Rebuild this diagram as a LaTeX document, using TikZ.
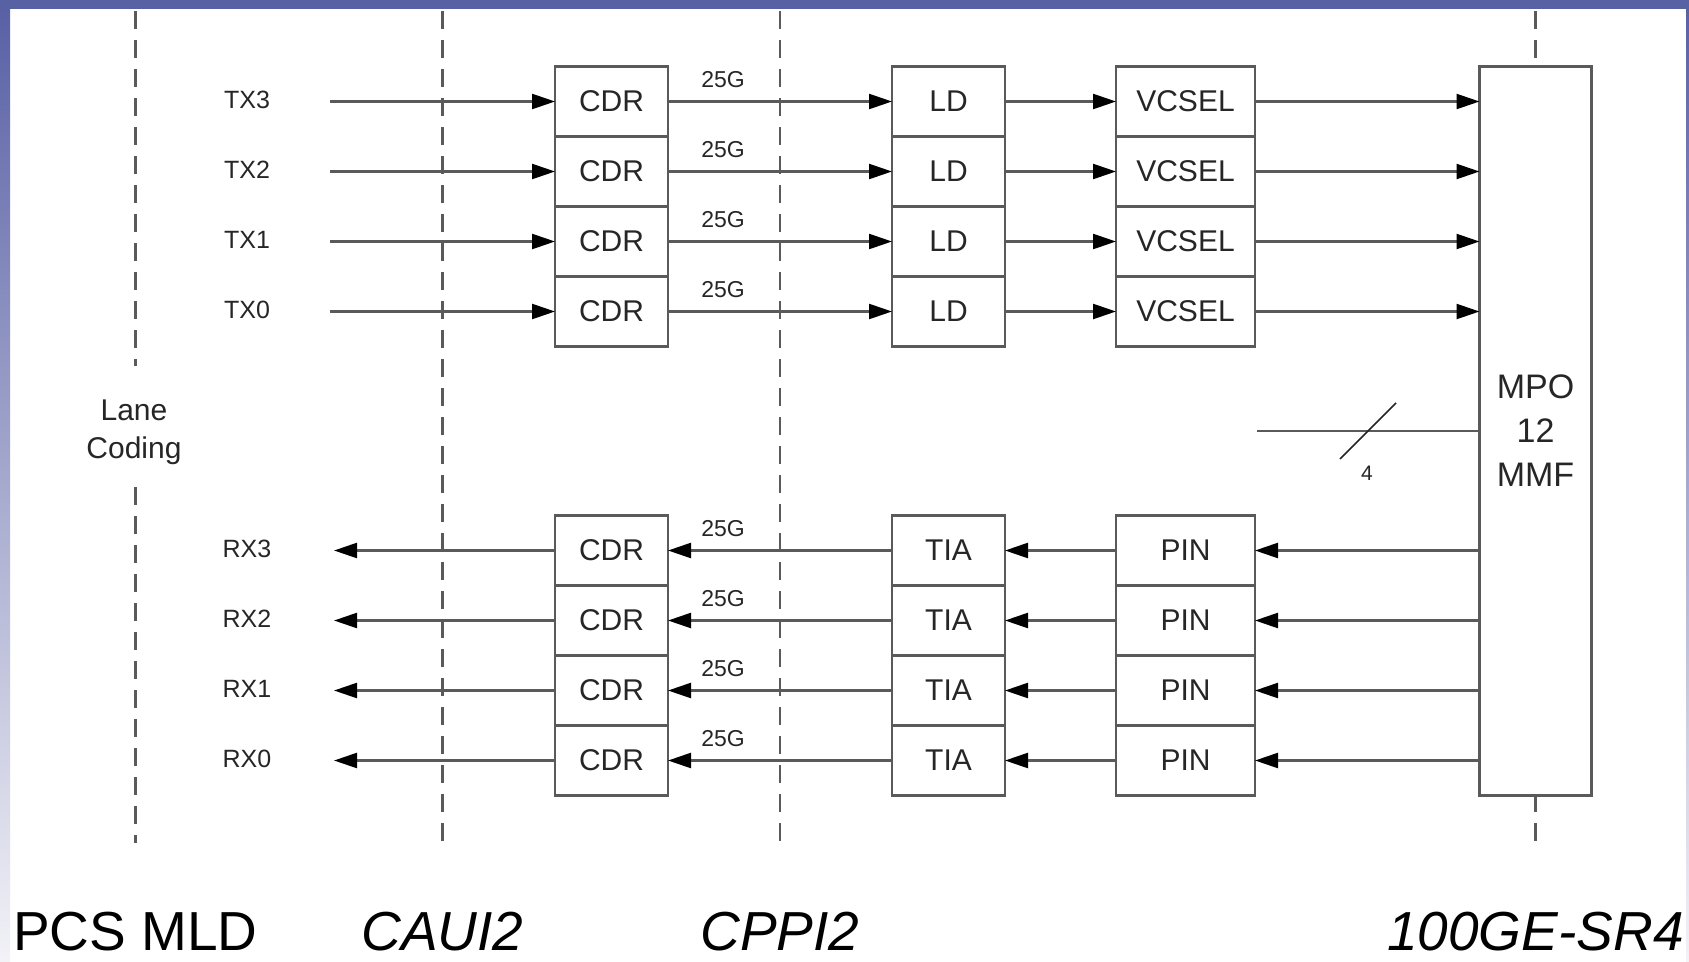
\documentclass[tikz,border=0pt]{standalone}
\usepackage{fontspec}
\setmainfont{Liberation Sans}
\usetikzlibrary{arrows.meta,positioning}
\definecolor{slideBlue}{HTML}{5961A5}
\definecolor{slideFade}{HTML}{F2F2F7}
\definecolor{wireGray}{HTML}{5A5A5A}
\definecolor{inkDark}{HTML}{262626}

\tikzset{
  blockbox/.style={draw=wireGray,line width=2.3pt,fill=white,minimum height=70pt,
    inner sep=0pt,outer sep=0pt,text=inkDark,font=\fontsize{30}{34}\selectfont},
  wire/.style={draw=wireGray,line width=2.3pt},
  sig/.style={wire,-{Triangle[length=23pt,width=15pt,color=black]}},
  divider/.style={draw=wireGray,line width=2.6pt,dash pattern=on 18pt off 11pt},
  lanelabel/.style={inner sep=0pt,text=inkDark,font=\fontsize{25}{30}\selectfont},
  ratelabel/.style={anchor=base,inner sep=0pt,text=inkDark,font=\fontsize{23}{28}\selectfont},
  layername/.style={anchor=base,inner sep=0pt,text=black,font=\fontsize{55}{60}\selectfont},
  ifname/.style={layername,font=\fontsize{55}{60}\selectfont\itshape}
}

\begin{document}
\begin{tikzpicture}[x=1pt,y=-1pt]
  \useasboundingbox (0,0) rectangle (1689,961);
  \fill[white] (0,0) rectangle (1689,961);
  \fill[slideBlue] (0,0) rectangle (1689,9);
  \shade[top color=slideBlue,bottom color=slideFade] (0,9) rectangle (10,961);
  \shade[top color=slideBlue,bottom color=slideFade] (1686,9) rectangle (1689,961);

  \draw[divider] (135.5,11) -- (135.5,366);
  \draw[divider] (135.5,487) -- (135.5,843);
  \foreach \x in {442.5,780,1535.5}
    \draw[divider] (\x,11) -- (\x,843);
  \node[align=center,inner sep=0pt,text=inkDark,font=\fontsize{30}{38}\selectfont]
    (lane) at (134,432) {Lane\\Coding};

  \node[blockbox,minimum width=112pt,minimum height=729pt,align=center,
    font=\fontsize{34}{44}\selectfont] (mpo) at (1535.5,431) {MPO\\12\\MMF};

  \foreach \i/\y in {3/101.5,2/171.5,1/241.5,0/311.5} {
    \node[lanelabel] (tx\i) at (247,\y-2) {TX\i};
    \coordinate (txin\i) at (330,\y);
    \node[blockbox,minimum width=113pt] (txcdr\i) at (611.5,\y) {CDR};
    \node[blockbox,minimum width=113pt] (ld\i) at (948.5,\y) {LD};
    \node[blockbox,minimum width=139pt] (vcsel\i) at (1185.5,\y) {VCSEL};
    \node[ratelabel] (txrate\i) at (723,\y-14.5) {25G};
  }
  \foreach \i/\y in {3/550.5,2/620.5,1/690.5,0/760.5} {
    \node[lanelabel] (rx\i) at (247,\y-2) {RX\i};
    \coordinate (rxout\i) at (334,\y);
    \node[blockbox,minimum width=113pt] (rxcdr\i) at (611.5,\y) {CDR};
    \node[blockbox,minimum width=113pt] (tia\i) at (948.5,\y) {TIA};
    \node[blockbox,minimum width=139pt] (pin\i) at (1185.5,\y) {PIN};
    \node[ratelabel] (rxrate\i) at (723,\y-14.5) {25G};
  }

  \foreach \i in {0,...,3} {
    \draw[sig] (txin\i) -- (txcdr\i.west);
    \draw[sig] (txcdr\i.east) -- (ld\i.west);
    \draw[sig] (ld\i.east) -- (vcsel\i.west);
    \draw[sig] (vcsel\i.east) -- (vcsel\i.east -| mpo.west);
    \draw[sig] (pin\i.east -| mpo.west) -- (pin\i.east);
    \draw[sig] (pin\i.west) -- (tia\i.east);
    \draw[sig] (tia\i.west) -- (rxcdr\i.east);
    \draw[sig] (rxcdr\i.west) -- (rxout\i);
  }

  \coordinate (bundle) at (1257,431);
  \draw[wire] (bundle) -- (bundle -| mpo.west);
  \draw[draw=inkDark,line width=1.5pt] (1340,459) -- (1396,403);
  \node[inner sep=0pt,text=inkDark,font=\fontsize{21}{25}\selectfont] (fibres) at (1367,473) {4};

  \node[layername] (pcs) at (135.5,950) {PCS MLD};
  \node[ifname] (caui) at (442.5,950) {CAUI2};
  \node[ifname] (cppi) at (780,950) {CPPI2};
  \node[ifname] (sr4) at (1535.5,950) {100GE-SR4};
\end{tikzpicture}
\end{document}
